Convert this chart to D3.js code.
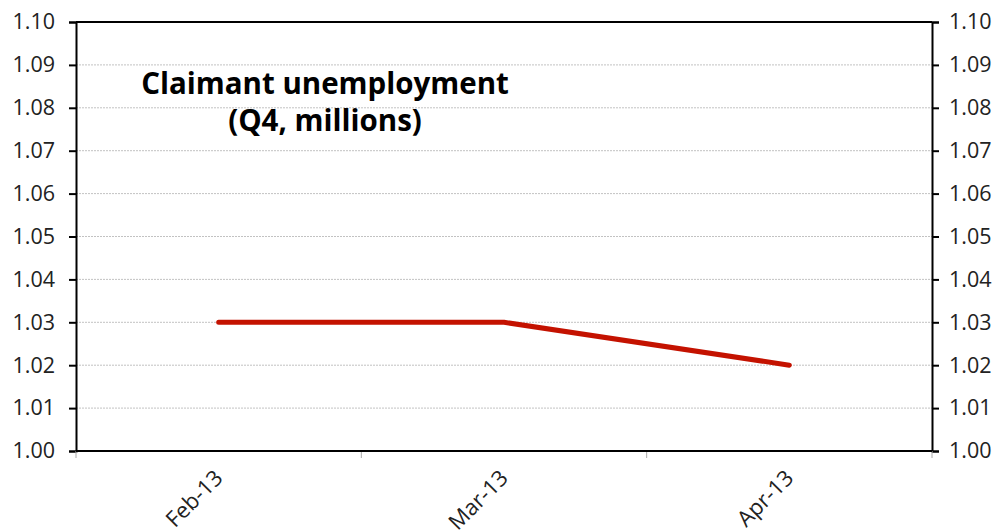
<!DOCTYPE html>
<meta charset="utf-8">
<style>
  body { margin: 0; background: #fff; }
  svg { font-family: "Open Sans", "Noto Sans", sans-serif; }
  .grid line { stroke: #999; stroke-width: 0.6; stroke-dasharray: 2,1; }
  .axis text { font-family: "Open Sans", "Noto Sans", sans-serif; font-size: 21.5px; fill: #222; }
  .xlab text { font-size: 22px; }
</style>
<body>
<svg id="chart" width="1004" height="532"></svg>
<script src="https://cdnjs.cloudflare.com/ajax/libs/d3/7.8.5/d3.min.js"></script>
<script>
// data
var months = ["Feb-13", "Mar-13", "Apr-13"];
var claimants = [1.03, 1.03, 1.02];
var yTicks = [1.00, 1.01, 1.02, 1.03, 1.04, 1.05, 1.06, 1.07, 1.08, 1.09, 1.10];
var titleLines = ["Claimant unemployment", "(Q4, millions)"];

var svg = d3.select("#chart"),
  mLeft = 76, mRight = 932, mTop = 22, mBottom = 451;

var x = d3.scaleBand().domain(months).range([mLeft, mRight]).padding(0);
var y = d3.scaleLinear().domain([1.00, 1.10]).range([mBottom, mTop]);

// gridlines
svg.append("g").attr("class", "grid")
  .selectAll("line").data(yTicks.slice(1, -1)).enter().append("line")
  .attr("x1", mLeft).attr("x2", mRight)
  .attr("y1", function (d) { return y(d); }).attr("y2", function (d) { return y(d); });

// left / right axes
var yl = svg.append("g").attr("class", "axis").attr("transform", "translate(" + mLeft + ",0)")
  .call(d3.axisLeft(y).tickValues(yTicks).tickFormat(d3.format(".2f")).tickSize(7).tickPadding(14));
var yr = svg.append("g").attr("class", "axis").attr("transform", "translate(" + mRight + ",0)")
  .call(d3.axisRight(y).tickValues(yTicks).tickFormat(d3.format(".2f")).tickSize(7).tickPadding(10));
[yl, yr].forEach(function (g) {
  g.select(".domain").attr("stroke", "#000").attr("stroke-width", 2);
  g.selectAll(".tick line").attr("stroke", "#000").attr("stroke-width", 2);
});

// top border
svg.append("line").attr("x1", mLeft).attr("x2", mRight).attr("y1", mTop).attr("y2", mTop)
  .attr("stroke", "#000").attr("stroke-width", 2);

// bottom axis with category boundary ticks
var bounds = months.map(function (m) { return x(m); }).concat([mRight]);
svg.append("g").selectAll("line").data(bounds).enter().append("line")
  .attr("x1", function (d) { return d; }).attr("x2", function (d) { return d; })
  .attr("y1", mBottom).attr("y2", mBottom + 7)
  .attr("stroke", "#aaa").attr("stroke-width", 1);
svg.append("line").attr("x1", mLeft).attr("x2", mRight).attr("y1", mBottom).attr("y2", mBottom)
  .attr("stroke", "#000").attr("stroke-width", 2);

// x labels
svg.append("g").attr("class", "axis xlab").selectAll("text").data(months).enter().append("text")
  .attr("text-anchor", "end")
  .attr("transform", function (d) {
    return "translate(" + (x(d) + x.bandwidth() / 2) + "," + (mBottom + 23) + ")rotate(-45)";
  })
  .attr("dy", "0.35em")
  .text(function (d) { return d; });

// line
var line = d3.line()
  .x(function (d, i) { return x(months[i]) + x.bandwidth() / 2; })
  .y(function (d) { return y(d); });
svg.append("path").datum(claimants)
  .attr("d", line)
  .attr("fill", "none")
  .attr("stroke", "#c41200")
  .attr("stroke-width", 5)
  .attr("stroke-linecap", "round")
  .attr("stroke-linejoin", "round");

// title
svg.append("g").selectAll("text").data(titleLines).enter().append("text")
  .attr("x", 325).attr("y", function (d, i) { return 94 + i * 37; })
  .attr("text-anchor", "middle")
  .attr("font-weight", "bold")
  .attr("font-size", "29.5px")
  .attr("fill", "#000")
  .text(function (d) { return d; });
</script>
</body>
